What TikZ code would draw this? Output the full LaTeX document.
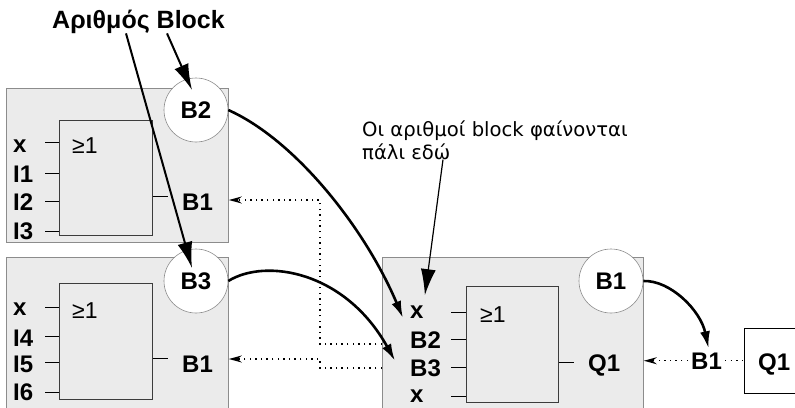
\documentclass[tikz,border=0pt]{standalone}
\usepackage{fontspec}
\setmainfont{Liberation Sans}
\newfontfamily\policeNote{DejaVu Sans}
\usepackage{xcolor}
\definecolor{plaqueFond}{HTML}{EBEBEB}
\definecolor{plaqueTrait}{HTML}{8C8C8C}
\definecolor{porteTrait}{HTML}{3C3C3C}
\definecolor{encre}{HTML}{000000}
\usepackage{tikz}
\usetikzlibrary{arrows.meta, positioning, calc}
\tikzset{
  %% ── Boxes ────────────────────────────────────────────────────────────
  %% A grey plate is one block of the program, the framed box inside it is
  %% the gate, and the white disc carries the block number.
  plaque/.style     = {draw=plaqueTrait, line width=0.8pt, fill=plaqueFond,
                       anchor=north west, inner sep=0pt},
  porte/.style      = {draw=porteTrait, line width=0.8pt, fill=plaqueFond,
                       anchor=north west, inner sep=0pt,
                       minimum width=93pt, minimum height=115pt},
  pastille/.style   = {circle, draw=plaqueTrait, line width=0.6pt, fill=white,
                       minimum size=64pt, inner sep=0pt,
                       font=\fontsize{24}{26}\selectfont\bfseries},
  boiteSortie/.style = {draw=encre, line width=0.8pt, fill=white,
                       anchor=north west, inner sep=0pt},
  %%
  %% ── Text ─────────────────────────────────────────────────────────────
  borne/.style      = {font=\fontsize{24}{26}\selectfont\bfseries,
                       anchor=base west, inner sep=0pt},
  ouLogique/.style  = {font=\fontsize{23}{26}\selectfont,
                       anchor=base west, inner sep=0pt},
  titre/.style      = {font=\fontsize{25}{28}\selectfont\bfseries,
                       anchor=base west, inner sep=0pt},
  remarque/.style   = {font=\policeNote\fontsize{19.6}{23}\selectfont,
                       anchor=base west, inner sep=0pt, align=left},
  %%
  %% ── Lines ────────────────────────────────────────────────────────────
  patte/.style      = {draw=encre, line width=1pt},
  flecheCourbe/.style = {-{Latex[length=17pt, width=10pt]}, draw=encre,
                       line width=2.6pt},
  flecheRenvoi/.style = {-{Latex[length=26pt, width=15pt]}, draw=encre,
                       line width=2pt},
  flecheNote/.style = {-{Latex[length=26pt, width=15pt]}, draw=encre,
                       line width=1.2pt},
  pointille/.style  = {draw=encre, line width=1.3pt,
                       dash pattern=on 1.4pt off 4.2pt},
  flechePointille/.style = {pointille, -{Stealth[length=13pt, width=7pt]}},
}

\begin{document}
\begin{tikzpicture}[x=1pt, y=-1pt]

\useasboundingbox (0,0) rectangle (795,407);
\clip (0,0) rectangle (795,407);

%% block B2
\node[plaque, minimum width=222pt, minimum height=154pt] (plaqueA) at (6,88) {};
\node[porte] (porteA) at (59,120) {};
\node[ouLogique] (ouA) at (72,153) {≥1};
\foreach \nom/\y/\b [count=\i] in {x/142/152, I1/173/182, I2/201/210, I3/231/239} {
  \node[borne] (bA\i) at (13,\b) {\nom};
  \draw[patte] ([xshift=-14pt]porteA.west |- 0,\y) -- (porteA.west |- 0,\y);
}
\node[borne] (sortieA) at (182,210) {B1};
\draw[patte] (porteA.east |- 0,196) -- ++(15,0);
\node[pastille] (numA) at (196,110) {B2};

%% block B3
\node[plaque, minimum width=222pt, minimum height=170pt] (plaqueB) at (6,257) {};
\node[porte, minimum height=116pt] (porteB) at (59,283) {};
\node[ouLogique] (ouB) at (72,318) {≥1};
\foreach \nom/\y/\b [count=\i] in {x/307/315, I4/336/346, I5/362/372, I6/392/400} {
  \node[borne] (bB\i) at (13,\b) {\nom};
  \draw[patte] ([xshift=-14pt]porteB.west |- 0,\y) -- (porteB.west |- 0,\y);
}
\node[borne] (sortieB) at (182,372) {B1};
\draw[patte] (porteB.east |- 0,358) -- ++(15,0);
\node[pastille] (numB) at (196,281) {B3};

%% block B1
\node[plaque, minimum width=261pt, minimum height=170pt] (plaqueC) at (382,257) {};
\node[porte, minimum width=92pt, minimum height=116pt] (porteC) at (466,286) {};
\node[ouLogique] (ouC) at (480,322) {≥1};
\foreach \nom/\y/\b [count=\i] in {x/312/318, B2/339/348, B3/367/376, x/396/402} {
  \node[borne] (bC\i) at (410,\b) {\nom};
  \draw[patte] ([xshift=-15pt]porteC.west |- 0,\y) -- (porteC.west |- 0,\y);
}
\node[borne] (sortieC) at (588,371) {Q1};
\draw[patte] (porteC.east |- 0,362) -- ++(15,0);
\node[pastille] (numC) at (611,281) {B1};

%% output
\node[borne] (renvoiB1) at (691,369) {B1};
\node[boiteSortie, minimum width=70pt, minimum height=65pt] (boiteQ1) at (744,328) {};
\node[borne] (texteQ1) at (758,370) {Q1};

%% captions
\node[titre] (titre) at (52,28) {Αριθμός Block};
\node[remarque] (note) at (362,159) {Οι αριθμοί block φαίνονται\\πάλι εδώ};

%% number to block
\draw[flecheRenvoi] ([xshift=115pt]titre.south west) -- ([shift={(-4,-20)}]numA.center);
\draw[flecheRenvoi] ([xshift=74pt]titre.south west) -- ([shift={(-4,-13)}]numB.center);
\draw[flecheNote] ([xshift=81pt]note.south west) -- ([shift={(8,-10)}]bC1.north);

\draw[flecheCourbe] (numA.east) .. controls +(67,30) and +(-38,-90)
     .. ([xshift=-7pt]bC1.base west);
\draw[flecheCourbe] (numB.east) .. controls +(37,-23) and +(-50,-90)
     .. ([shift={(-15,-7)}]bC3.west);
\draw[flecheCourbe] (numC.east) .. controls +(27,-1) and +(-8,-38)
     .. ([shift={(2,-4)}]renvoiB1.north);

%% signals back
\coordinate (coudeA) at (320,344);
\coordinate (coudeB) at (320,368);
\draw[flechePointille] (plaqueC.west |- coudeA) -- (coudeA) |- (plaqueA.east |- 0,200);
\draw[flechePointille] (plaqueC.west |- coudeB) -- (coudeB) |- (plaqueB.east |- 0,359);
\draw[flechePointille] ([xshift=-3pt]renvoiB1.west) -- (plaqueC.east |- renvoiB1.west);
\draw[pointille] ([xshift=3pt]renvoiB1.east) -- (boiteQ1.west |- renvoiB1.east);

\end{tikzpicture}
\end{document}
